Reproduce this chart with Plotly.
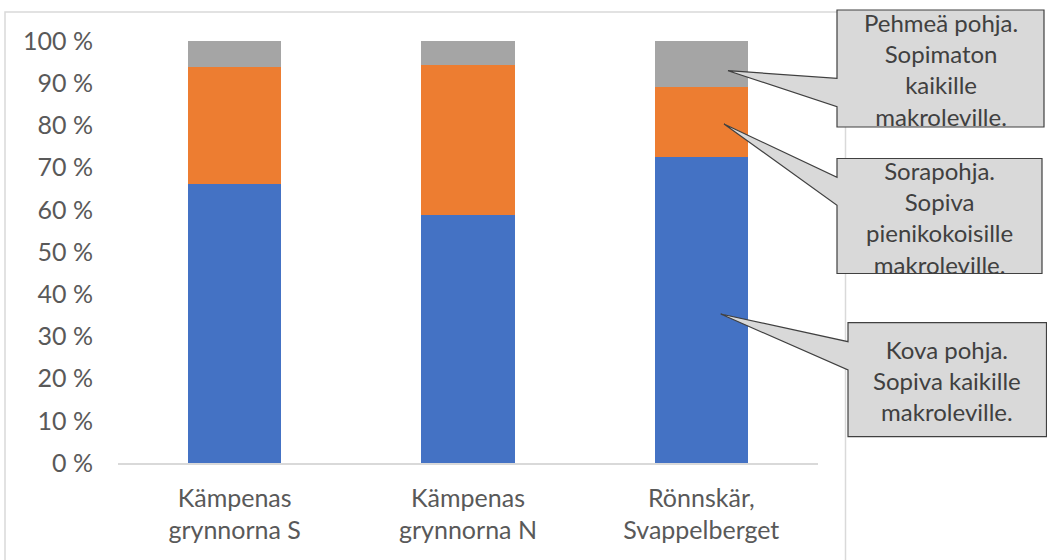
import plotly.graph_objects as go

categories = ["Kämpenas<br>grynnorna S", "Kämpenas<br>grynnorna N", "Rönnskär,<br>Svappelberget"]
kova = [66.1, 58.8, 72.4]
sora = [27.8, 35.4, 16.6]
pehmea = [6.1, 5.8, 11.0]
y_ticks = [0, 10, 20, 30, 40, 50, 60, 70, 80, 90, 100]
y_tick_labels = ["0 %", "10 %", "20 %", "30 %", "40 %", "50 %", "60 %", "70 %", "80 %", "90 %", "100 %"]

callout_texts = [
    "Pehmeä pohja.<br>Sopimaton<br>kaikille<br>makroleville.",
    "Sorapohja.<br>Sopiva<br>pienikokoisille<br>makroleville.",
    "Kova pohja.<br>Sopiva kaikille<br>makroleville.",
]

W_FIG, H_FIG = 1047, 560
L, T, R, B = 118, 41, 818, 463
PW, PH = R - L, B - T

def px(x):
    return (x - L) / PW

def py(y):
    return (B - y) / PH

FONT = "Lato, 'Open Sans', sans-serif"

fig = go.Figure()
fig.add_bar(x=categories, y=kova, name="Kova", marker=dict(color="#4472C4", line=dict(width=0)))
fig.add_bar(x=categories, y=sora, name="Sora", marker=dict(color="#ED7D31", line=dict(width=0)))
fig.add_bar(x=categories, y=pehmea, name="Pehmeä", marker=dict(color="#A5A5A5", line=dict(width=0)))

shapes = []
# chart area border
shapes.append(dict(type="path", xref="paper", yref="paper",
                   path=f"M {px(5)},{py(600)} L {px(5)},{py(12)} L {px(845.5)},{py(12)} L {px(845.5)},{py(600)}",
                   line=dict(color="#D9D9D9", width=1.5), layer="below"))

# callouts: box (x0, y0, x1, y1), wedge base (yA, yB), tip (tx, ty)
callouts = [
    ((837, 10, 1044, 127), (78.3, 106.7), (728, 70.7)),
    ((837, 158.5, 1042, 273.5), (177.3, 205.3), (724, 124)),
    ((848, 322.7, 1046.5, 436.7), (341.7, 370), (720.7, 314)),
]
for (x0, y0, x1, y1), (ya, yb), (tx, ty) in callouts:
    path = (f"M {px(x0)},{py(y0)} L {px(x1)},{py(y0)} L {px(x1)},{py(y1)} L {px(x0)},{py(y1)} "
            f"L {px(x0)},{py(yb)} L {px(tx)},{py(ty)} L {px(x0)},{py(ya)} Z")
    shapes.append(dict(type="path", xref="paper", yref="paper", path=path,
                       fillcolor="#D9D9D9", line=dict(color="#404040", width=1.2), layer="above"))

annotations = []
for ((x0, y0, x1, y1), _, _), txt in zip(callouts, callout_texts):
    annotations.append(dict(xref="paper", yref="paper", x=px((x0 + x1) / 2), y=py((y0 + y1) / 2 + 1),
                            text=txt, showarrow=False, xanchor="center", yanchor="middle",
                            font=dict(family=FONT, size=24, color="#404040"), align="center"))

fig.update_layout(
    width=W_FIG, height=H_FIG,
    margin=dict(l=L, r=W_FIG - R, t=T, b=H_FIG - B),
    barmode="stack", bargap=0.6,
    paper_bgcolor="white", plot_bgcolor="white",
    showlegend=False,
    shapes=shapes, annotations=annotations,
    font=dict(family=FONT, size=25, color="#595959"),
)
fig.update_yaxes(range=[0, 100], tickmode="array", tickvals=y_ticks, ticktext=y_tick_labels,
                 showgrid=False, zeroline=False, showline=False, ticks="", ticklabelstandoff=24,
                 tickfont=dict(family=FONT, size=25, color="#595959"))
fig.update_xaxes(showline=True, linecolor="#D9D9D9", linewidth=1.5, ticks="",
                 ticklabelstandoff=12, tickfont=dict(family=FONT, size=25, color="#595959"))

fig.write_html("out.html")
